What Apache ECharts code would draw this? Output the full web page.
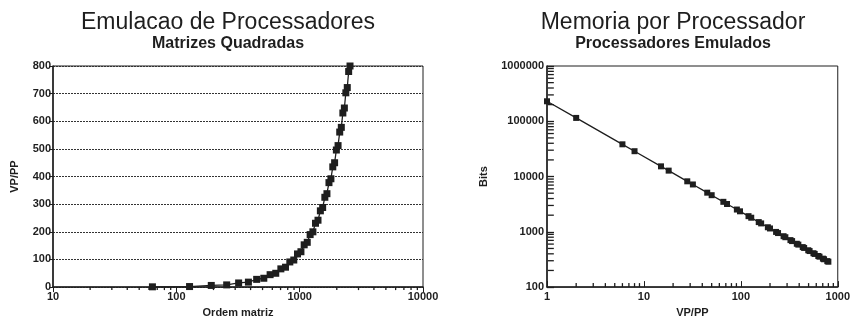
<!DOCTYPE html>
<html>
<head>
<meta charset="utf-8">
<script src="https://cdn.jsdelivr.net/npm/echarts@6/dist/echarts.min.js"></script>
<style>
html,body{margin:0;padding:0;background:#fff;}
#c{width:853px;height:323px;}
</style>
</head>
<body>
<div id="c"></div>
<script>
// ---- Data: left chart (Emulacao de Processadores) ----
const ordemMatriz = [64,128,192,256,320,384,448,512,576,640,704,768,832,896,960,1024,1088,1152,1216,1280,1344,1408,1472,1536,1600,1664,1728,1792,1856,1920,1984,2048,2112,2176,2240,2304,2368,2432,2496,2560];
const vpPorPP = [1,2,6,8,15,18,28,32,45,50,66,72,91,98,120,128,153,162,190,200,231,242,276,288,325,338,378,392,435,450,496,512,561,578,630,648,703,722,780,800];
const leftYTicks = [0,100,200,300,400,500,600,700,800];
const leftXTicks = [10,100,1000,10000];

// ---- Data: right chart (Memoria por Processador) ----
const memVP = [1,2,6,8,15,18,28,32,45,50,66,72,91,98,120,128,153,162,190,200,231,242,276,288,325,338,378,392,435,450,496,512,561,578,630,648,703,722,780,800];
const memBits = [230000,115000,38300,28750,15300,12800,8200,7190,5110,4600,3490,3190,2530,2350,1920,1800,1500,1420,1210,1150,996,950,833,799,708,680,608,587,529,511,464,449,410,398,365,355,327,319,295,288];
const rightYTicks = [100,1000,10000,100000,1000000];
const rightXTicks = [1,10,100,1000];

const INK = '#1e1e1e';
const FONT = '"Liberation Sans", Arial, sans-serif';

function minorValues(lo, hi) {
  const out = [];
  for (let d = lo; d < hi; d *= 10) for (let m = 2; m <= 9; m++) out.push(d * m);
  return out;
}

function tickSeries(xIdx, yIdx, values, axis, base, len) {
  return {
    type: 'custom', xAxisIndex: xIdx, yAxisIndex: yIdx, silent: true, clip: false, z: 20,
    data: values.map(v => axis === 'x' ? [v, base] : [base, v]),
    renderItem: function (params, api) {
      const p = api.coord([api.value(0), api.value(1)]);
      const shape = axis === 'x'
        ? {x1: p[0], y1: p[1], x2: p[0], y2: p[1] + len}
        : {x1: p[0], y1: p[1], x2: p[0] + len, y2: p[1]};
      return {type: 'line', shape: shape, style: {stroke: INK, lineWidth: 1.3}};
    }
  };
}

const labelStyle = {color: INK, fontFamily: FONT, fontSize: 11, fontWeight: 'bold'};
const nameStyle = {color: INK, fontFamily: FONT, fontSize: 11, fontWeight: 'bold'};
const titleStyle = {color: INK, fontFamily: FONT, fontSize: 23, fontWeight: 'normal'};
const subStyle = {color: INK, fontFamily: FONT, fontSize: 16, fontWeight: 'bold'};

const chart = echarts.init(document.getElementById('c'));
chart.setOption({
  backgroundColor: '#fff',
  animation: false,
  title: [
    {text: 'Emulacao de Processadores', subtext: 'Matrizes Quadradas', left: 223, top: 6, textAlign: 'center', itemGap: 2,
     textStyle: titleStyle, subtextStyle: subStyle},
    {text: 'Memoria por Processador', subtext: 'Processadores Emulados', left: 668, top: 6, textAlign: 'center', itemGap: 2,
     textStyle: titleStyle, subtextStyle: subStyle}
  ],
  grid: [
    {left: 53, top: 66, right: 430, bottom: 35, show: true, borderColor: INK, borderWidth: 1},
    {left: 547, top: 66, right: 11, bottom: 33, show: true, borderColor: INK, borderWidth: 1}
  ],
  xAxis: [
    {type: 'log', gridIndex: 0, min: 10, max: 10000, logBase: 10,
     name: 'Ordem matriz', nameLocation: 'middle', nameGap: 18, nameTextStyle: nameStyle,
     axisLine: {lineStyle: {color: INK, width: 1.5}},
     axisTick: {show: true, inside: false, length: 5, lineStyle: {color: INK}},
     axisLabel: Object.assign({margin: 4, formatter: v => String(Math.round(v))}, labelStyle),
     splitLine: {show: false}},
    {type: 'log', gridIndex: 1, min: 1, max: 1000, logBase: 10,
     name: 'VP/PP', nameLocation: 'middle', nameGap: 16, nameTextStyle: nameStyle,
     axisLine: {lineStyle: {color: INK, width: 1.5}},
     axisTick: {show: true, inside: true, length: 6, lineStyle: {color: INK}},
     axisLabel: Object.assign({margin: 4, formatter: v => String(Math.round(v))}, labelStyle),
     splitLine: {show: false}}
  ],
  yAxis: [
    {type: 'value', gridIndex: 0, min: 0, max: 800, interval: 100,
     name: 'VP/PP', nameLocation: 'middle', nameGap: 33, nameRotate: 90, nameTextStyle: nameStyle,
     axisLine: {lineStyle: {color: INK, width: 1.5}},
     axisTick: {show: true, inside: false, length: 4, lineStyle: {color: INK}},
     axisLabel: Object.assign({margin: 2}, labelStyle),
     splitLine: {show: true, lineStyle: {color: '#333', type: [2, 1], width: 1}}},
    {type: 'log', gridIndex: 1, min: 100, max: 1000000, logBase: 10,
     name: 'Bits', nameLocation: 'middle', nameGap: 58, nameRotate: 90, nameTextStyle: nameStyle,
     axisLine: {lineStyle: {color: INK, width: 1.5}},
     axisTick: {show: true, inside: true, length: 7, lineStyle: {color: INK, width: 1.3}},
     axisLabel: Object.assign({margin: 3, formatter: v => String(Math.round(v))}, labelStyle),
     splitLine: {show: false}}
  ],
  series: [
    {type: 'line', xAxisIndex: 0, yAxisIndex: 0, z: 10,
     data: ordemMatriz.map((n, i) => [n, vpPorPP[i]]),
     symbol: 'rect', symbolSize: 7, showSymbol: true,
     lineStyle: {color: INK, width: 1.3}, itemStyle: {color: INK}},
    {type: 'line', xAxisIndex: 1, yAxisIndex: 1, z: 10,
     data: memVP.map((v, i) => [v, memBits[i]]),
     symbol: 'rect', symbolSize: 6, showSymbol: true,
     lineStyle: {color: INK, width: 1.3}, itemStyle: {color: INK}},
    tickSeries(0, 0, minorValues(10, 10000), 'x', 0, 3),
    tickSeries(1, 1, minorValues(1, 1000), 'x', 100, -4),
    tickSeries(1, 1, minorValues(100, 1000000), 'y', 1.02, 6)
  ]
});
</script>
</body>
</html>
